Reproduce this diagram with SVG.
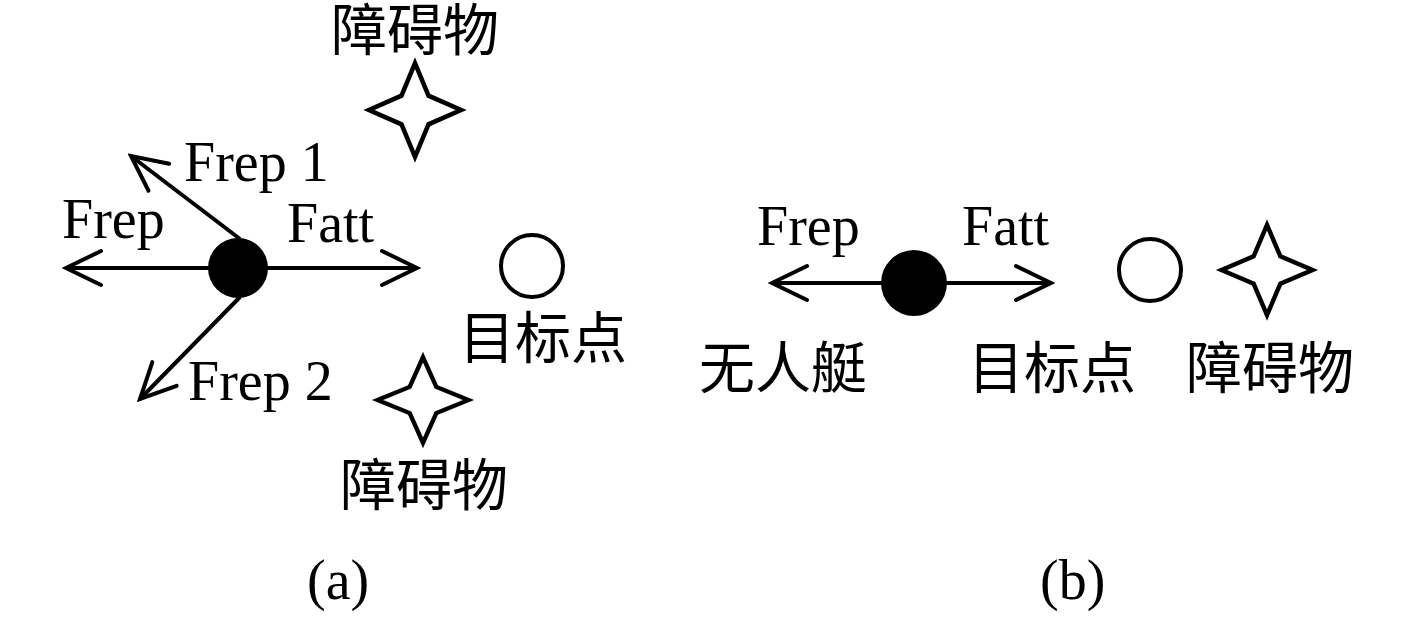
<svg xmlns="http://www.w3.org/2000/svg" xmlns:xlink="http://www.w3.org/1999/xlink" width="1417" height="617" viewBox="0 0 1417 617">
  <style>
    .lat { font-family: "Liberation Serif", "Times New Roman", serif; font-size: 56px; fill: #000; }
    .cjk { font-family: "Liberation Serif", "Noto Sans CJK SC", sans-serif; font-size: 56px; fill: #000; text-anchor: middle; }
    .ln { stroke: #000; stroke-width: 4; fill: none; }
    .star { stroke: #000; stroke-width: 4.5; fill: #fff; stroke-linejoin: miter; }
    .ring { stroke: #000; stroke-width: 4; fill: #fff; }
    .dot { fill: #000; }
  </style>
  <defs>
    <marker id="chev" markerUnits="userSpaceOnUse" viewBox="-40 -22 44 44" markerWidth="44" markerHeight="44" refX="0" refY="0" orient="auto">
      <path d="M -35,-17 L 0,0 L -35,17" fill="none" stroke="#000" stroke-width="4" stroke-linecap="round" stroke-linejoin="miter"/>
    </marker>
    <path id="starShape" d="M 0,-46 L 13.5,-14 L 46,0 L 13.5,14 L 0,46 L -13.5,14 L -46,0 L -13.5,-14 Z"/>
  </defs>

  <g id="connectors">
    <line class="ln" x1="238" y1="268" x2="66" y2="268" marker-end="url(#chev)"/>
    <line class="ln" x1="238" y1="268" x2="417" y2="268" marker-end="url(#chev)"/>
    <line class="ln" x1="240" y1="239" x2="131" y2="156" marker-end="url(#chev)"/>
    <line class="ln" x1="240" y1="297" x2="140" y2="399" marker-end="url(#chev)"/>
    <line class="ln" x1="914" y1="283" x2="772" y2="283" marker-end="url(#chev)"/>
    <line class="ln" x1="914" y1="283" x2="1051" y2="283" marker-end="url(#chev)"/>
  </g>

  <g id="boat-a">
    <circle class="dot" cx="238" cy="268" r="30"/>
  </g>
  <g id="target-a">
    <circle class="ring" cx="532" cy="266" r="31"/>
    <text class="cjk" x="543" y="358">目标点</text>
  </g>
  <g id="obstacle-a-top">
    <use xlink:href="#starShape" href="#starShape" class="star" transform="translate(415,110) scale(1,1.02)"/>
    <text class="cjk" x="415" y="50">障碍物</text>
  </g>
  <g id="obstacle-a-bottom">
    <use xlink:href="#starShape" href="#starShape" class="star" transform="translate(423,400) scale(0.99,0.93)"/>
    <text class="cjk" x="424" y="505">障碍物</text>
  </g>
  <g id="labels-a">
    <text class="lat" x="62" y="238">Frep</text>
    <text class="lat" x="287" y="242">Fatt</text>
    <text class="lat" x="184" y="181">Frep 1</text>
    <text class="lat" x="188" y="400">Frep 2</text>
    <text class="lat" x="307" y="599">(a)</text>
  </g>

  <g id="boat-b">
    <circle class="dot" cx="914" cy="283" r="33"/>
    <text class="cjk" x="783" y="388">无人艇</text>
  </g>
  <g id="target-b">
    <circle class="ring" cx="1150" cy="270" r="31"/>
    <text class="cjk" x="1052" y="388">目标点</text>
  </g>
  <g id="obstacle-b">
    <use xlink:href="#starShape" href="#starShape" class="star" transform="translate(1267,270) scale(0.99,0.98)"/>
    <text class="cjk" x="1270" y="388">障碍物</text>
  </g>
  <g id="labels-b">
    <text class="lat" x="757" y="245">Frep</text>
    <text class="lat" x="962" y="245">Fatt</text>
    <text class="lat" x="1040" y="599">(b)</text>
  </g>
</svg>
